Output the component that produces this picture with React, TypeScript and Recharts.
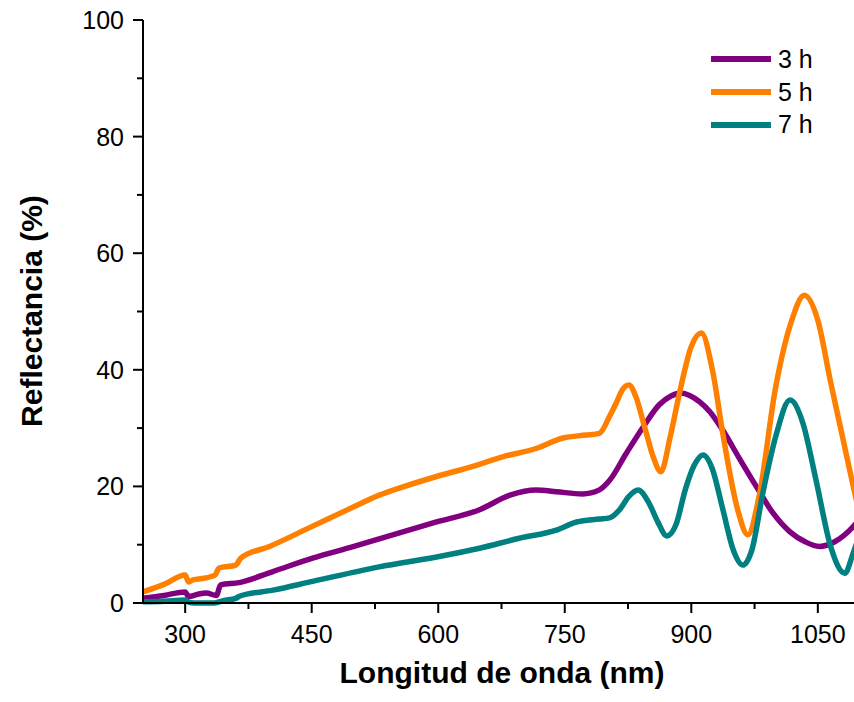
import React from "react";
import { LineChart, Line, XAxis, YAxis, Legend } from "recharts";

// wavelength (nm) / reflectance (%) per synthesis time
const wl3 = [250, 275, 300, 304, 315, 325, 337, 342, 364, 404, 451, 500, 530, 598, 649, 685, 716, 740, 771, 791, 803, 823, 843, 862, 876, 888, 898, 910, 922, 937, 957, 977, 997, 1017, 1035, 1052, 1070, 1092, 1100];
const r3 = [0.8, 1.3, 1.9, 1.1, 1.5, 1.7, 1.3, 3.1, 3.5, 5.4, 7.7, 9.7, 11.0, 13.9, 16.0, 18.5, 19.4, 19.1, 18.7, 19.4, 21.0, 25.7, 30.2, 34.0, 35.5, 36.0, 35.6, 34.5, 32.8, 29.7, 24.8, 20.0, 15.4, 12.2, 10.5, 9.7, 10.5, 13.1, 14.5];

const wl5 = [250, 275, 300, 304, 310, 320, 330, 336, 340, 360, 366, 400, 450, 500, 530, 560, 598, 640, 677, 716, 748, 775, 791, 803, 811, 818, 826, 834, 845, 855, 864, 875, 886, 900, 912, 925, 938, 955, 967, 980, 1000, 1018, 1034, 1050, 1065, 1080, 1092, 1100];
const r5 = [1.9, 3.2, 4.8, 3.6, 4.0, 4.2, 4.5, 4.9, 6.0, 6.5, 7.7, 9.7, 13.1, 16.5, 18.5, 20.0, 21.7, 23.4, 25.1, 26.5, 28.3, 28.8, 29.1, 32.0, 34.3, 36.5, 37.4, 35.5, 30.0, 25.0, 22.5, 28.5, 36.0, 44.0, 46.3, 40.0, 28.5, 16.0, 11.7, 18.0, 37.0, 48.0, 52.8, 48.5, 38.0, 28.0, 20.0, 15.0];

const wl7 = [250, 275, 300, 305, 310, 335, 345, 360, 365, 404, 451, 530, 598, 649, 696, 740, 764, 791, 803, 815, 826, 837, 850, 860, 871, 882, 893, 903, 914, 925, 937, 950, 961, 972, 985, 1000, 1017, 1032, 1048, 1065, 1082, 1092, 1100];
const r7 = [0.2, 0.3, 0.5, 0.1, 0, 0, 0.4, 0.8, 1.2, 2.2, 3.7, 6.2, 7.9, 9.4, 11.1, 12.5, 13.9, 14.4, 14.6, 16.0, 18.3, 19.4, 17.1, 14.0, 11.5, 13.5, 19.5, 23.5, 25.4, 23.0, 16.3, 9.0, 6.5, 9.2, 19.0, 28.5, 34.8, 31.0, 21.0, 9.8, 5.1, 8.6, 12.0];

const xTicks = [300, 375, 450, 525, 600, 675, 750, 825, 900, 975, 1050];
const yTicks = [0, 10, 20, 30, 40, 50, 60, 70, 80, 90, 100];

const toSeries = (wl: number[], r: number[]) => wl.map((w, i) => ({ wl: w, r: r[i] }));
const s3 = toSeries(wl3, r3);
const s5 = toSeries(wl5, r5);
const s7 = toSeries(wl7, r7);

const FONT = '"Liberation Sans", Arial, Helvetica, sans-serif';

const XTick = (props: any) => {
  const { x, y, payload } = props;
  const major = payload.value % 150 === 0;
  return (
    <g>
      <line x1={x} x2={x} y1={y} y2={y + (major ? 10 : 6)} stroke="#000" strokeWidth={2} />
      {major && (
        <text x={x} y={y + 40} textAnchor="middle" fontSize={25} fontFamily={FONT} fill="#000">
          {payload.value}
        </text>
      )}
    </g>
  );
};

const YTick = (props: any) => {
  const { x, y, payload } = props;
  const major = payload.value % 20 === 0;
  return (
    <g>
      <line x1={x} x2={x - (major ? 10 : 6)} y1={y} y2={y} stroke="#000" strokeWidth={2} />
      {major && (
        <text x={x - 19} y={y + 9} textAnchor="end" fontSize={25} fontFamily={FONT} fill="#000">
          {payload.value}
        </text>
      )}
    </g>
  );
};

const LegendBox = (props: any) => {
  const { payload } = props;
  return (
    <div style={{ fontFamily: FONT }}>
      {(payload || []).map((p: any) => (
        <div key={p.value} style={{ display: "flex", alignItems: "center", height: 32.7 }}>
          <div style={{ width: 60, height: 6, background: p.color, marginRight: 7 }} />
          <span style={{ fontSize: 25, lineHeight: 1, color: "#000" }}>{p.value}</span>
        </div>
      ))}
    </div>
  );
};

export default function App() {
  return (
    <div
      style={{
        position: "absolute",
        left: 0,
        top: 0,
        width: 854,
        height: 702,
        overflow: "hidden",
        background: "#fff",
      }}
    >
      <LineChart width={870} height={702} margin={{ top: 20, right: 10, bottom: 59, left: 83 }}>
        <XAxis
          xAxisId="top"
          orientation="top"
          type="number"
          dataKey="wl"
          domain={[250, 1100]}
          height={0}
          tick={false}
          tickLine={false}
          axisLine={{ stroke: "#000", strokeWidth: 2 }}
        />
        <XAxis
          type="number"
          dataKey="wl"
          domain={[250, 1100]}
          ticks={xTicks}
          interval={0}
          height={40}
          tickSize={0}
          tickMargin={0}
          tickLine={false}
          tick={<XTick />}
          axisLine={{ stroke: "#000", strokeWidth: 2 }}
        />
        <YAxis
          type="number"
          domain={[0, 100]}
          ticks={yTicks}
          interval={0}
          width={60}
          tickSize={0}
          tickMargin={0}
          tickLine={false}
          tick={<YTick />}
          axisLine={{ stroke: "#000", strokeWidth: 2 }}
        />
        {/* centered/middle so the legend floats over the plot without taking space from it */}
        <Legend
          layout="vertical"
          verticalAlign="middle"
          align="center"
          content={<LegendBox />}
          wrapperStyle={{ top: 43, left: 711, right: "auto", bottom: "auto", width: 130 }}
        />
        <Line data={s3} dataKey="r" name="3 h" type="monotone" stroke="#800080" strokeWidth={5.5} dot={false} isAnimationActive={false} />
        <Line data={s5} dataKey="r" name="5 h" type="monotone" stroke="#FF8000" strokeWidth={5.5} dot={false} isAnimationActive={false} />
        <Line data={s7} dataKey="r" name="7 h" type="monotone" stroke="#008080" strokeWidth={5.5} dot={false} isAnimationActive={false} />
        <text x={502} y={683} textAnchor="middle" fontSize={30} fontWeight="bold" fontFamily={FONT} fill="#000">
          Longitud de onda (nm)
        </text>
        <text
          x={31}
          y={311}
          transform="rotate(-90 31 311)"
          textAnchor="middle"
          dominantBaseline="central"
          fontSize={30}
          fontWeight="bold"
          fontFamily={FONT}
          fill="#000"
        >
          Reflectancia (%)
        </text>
      </LineChart>
    </div>
  );
}
